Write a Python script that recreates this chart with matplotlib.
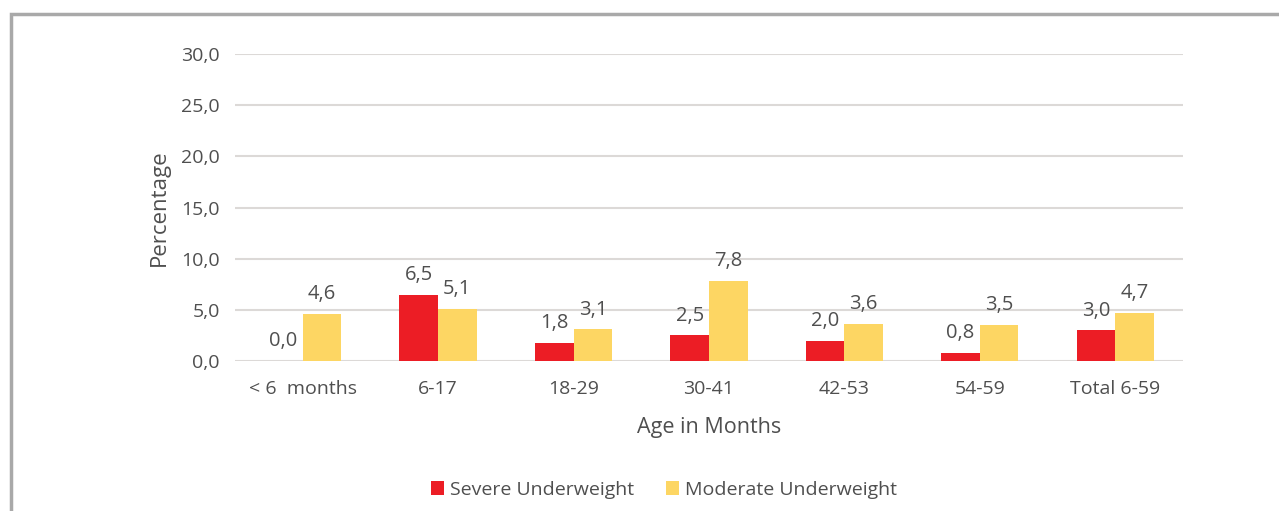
import matplotlib.pyplot as plt
import numpy as np
from matplotlib.patches import Rectangle

age_groups = ['< 6  months', '6-17', '18-29', '30-41', '42-53', '54-59', 'Total 6-59']
severe = [0.0, 6.5, 1.8, 2.5, 2.0, 0.8, 3.0]
moderate = [4.6, 5.1, 3.1, 7.8, 3.6, 3.5, 4.7]
y_ticks = [0, 5, 10, 15, 20, 25, 30]

RED = '#EC1D25'
YELLOW = '#FDD663'
TEXT = '#4F4F4F'
GRID = '#DCD9D7'


def fmt(v):
    return f'{v:.1f}'.replace('.', ',')


plt.rcParams['font.family'] = ['Open Sans', 'DejaVu Sans']

fig = plt.figure(figsize=(12.79, 5.11), dpi=100)
ax = fig.add_axes([0.1837, 0.2935, 0.7412, 0.6008])

x = np.arange(len(age_groups))
w = 0.285
bars_s = ax.bar(x - w / 2, severe, w, color=RED, label='Severe Underweight', zorder=3)
bars_m = ax.bar(x + w / 2, moderate, w, color=YELLOW, label='Moderate Underweight', zorder=3)

for bars, vals in ((bars_s, severe), (bars_m, moderate)):
    for b, v in zip(bars, vals):
        ax.annotate(fmt(v), (b.get_x() + b.get_width() / 2, v),
                    xytext=(0, 7), textcoords='offset points',
                    ha='center', va='bottom', fontsize=14.5, color=TEXT)

ax.set_xlim(-0.5, len(age_groups) - 0.5)
ax.set_ylim(0, 30)
ax.set_yticks(y_ticks)
ax.set_yticklabels([fmt(t) for t in y_ticks])
ax.set_xticks(x)
ax.set_xticklabels(age_groups)
ax.tick_params(length=0, labelsize=14, colors=TEXT)
ax.tick_params(axis='x', pad=14)
ax.tick_params(axis='y', pad=11)
ax.grid(axis='y', color=GRID, linewidth=1.5, zorder=0)
for s in ax.spines.values():
    s.set_visible(False)

ax.set_xlabel('Age in Months', fontsize=15.5, color=TEXT, labelpad=13)
ax.set_ylabel('Percentage', fontsize=16, color=TEXT, labelpad=8)

ax.legend(loc='center', bbox_to_anchor=(0.4525, -0.42), ncol=2, frameon=False,
          fontsize=14, labelcolor=TEXT, handlelength=0.7, handleheight=0.7,
          columnspacing=1.6, handletextpad=0.3)

# outer frame, open towards the right and bottom edges
fig.patches.append(Rectangle((11 / 1279, -0.1), 1.2, (511 - 14) / 511 + 0.1,
                             transform=fig.transFigure, fill=False,
                             edgecolor='#A9A9A9', linewidth=2.5))

fig.savefig('out.png', dpi=100)
